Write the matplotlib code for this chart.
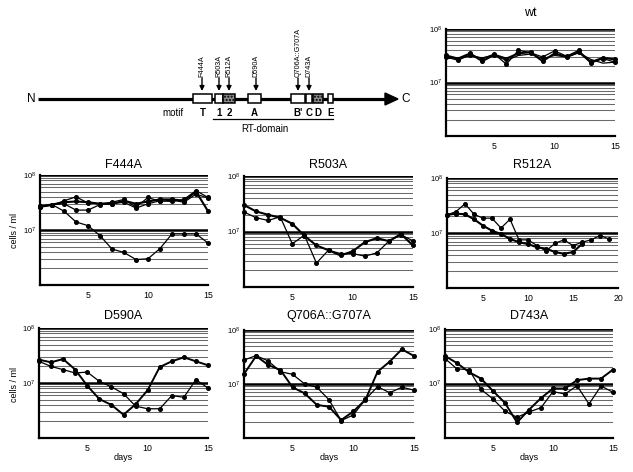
import matplotlib
matplotlib.use('Agg')
import matplotlib.pyplot as plt
import numpy as np
from matplotlib.patches import Rectangle, Polygon
from matplotlib.ticker import FixedLocator, NullFormatter

plt.rcParams['font.family'] = ['Liberation Sans', 'DejaVu Sans']
plt.rcParams['mathtext.fontset'] = 'custom'
plt.rcParams['mathtext.rm'] = 'Liberation Sans'
plt.rcParams['mathtext.it'] = 'Liberation Sans:italic'
plt.rcParams['mathtext.bf'] = 'Liberation Sans:bold'

W, H = 633, 472

# ---------------- data (cells/ml, in units of 10^6) ----------------
days15 = list(range(1, 16))
days16 = list(range(1, 17))
days19 = list(range(1, 20))

wt_a = [32, 28, 35, 25, 33, 28, 35, 37, 25, 35, 30, 37, 24, 29, 27]
wt_b = [30, 26, 33, 28, 34, 22, 40, 36, 30, 39, 31, 40, 23, 28, 24]
wt_c = [28, 29, 31, 29, 32, 26, 32, 34, 28, 32, 30, 36, 27, 23, 24]

f444a_a = [27, 29, 32, 33, 32, 30, 30, 34, 30, 33, 36, 36, 34, 50, 22]
f444a_b = [26, 28, 34, 40, 31, 30, 32, 36, 26, 39, 33, 35, 32, 45, 38]
f444a_c = [26, 29, 30, 23, 23, 29, 30, 32, 25, 30, 34, 33, 36, 52, 39]
f444a_d = [27, 29, 22, 14, 12, 7.9, 4.5, 3.9, 2.9, 3.0, 4.6, 8.5, 8.5, 8.5, 5.8]

r503a_a = [30, 23, 20, 17.7, 13.8, 8.4, 5.6, 4.6, 3.7, 4.4, 6.4, 7.6, 6.7, 9.0, 5.6]
r503a_b = [22.5, 17.7, 15.8, 18.4, 6.0, 8.6, 2.7, 4.6, 4.0, 4.0, 3.6, 4.1, 6.7, 8.7, 6.8]

r512a_a = [21.3, 24.5, 34, 21.9, 18.6, 18.6, 12.3, 17.8, 7.5, 7.5, 5.9, 4.7, 6.5,
           7.5, 5.9, 6.8, 7.5, 9.0, 7.8]
r512a_b = [21.3, 22.5, 21.9, 17.8, 13.6, 11.0, 9.6, 7.8, 6.8, 6.3, 5.5, 5.2, 4.5,
           4.2, 4.5, 6.3]

d590a_a = [26.5, 23.8, 27.3, 17.5, 8.9, 5.1, 4.0, 2.65, 4.1, 7.4, 19.5, 24.8, 29.3, 24.8, 21]
d590a_b = [24.8, 20, 17.5, 15.2, 15.8, 10.7, 8.5, 6.4, 3.8, 3.4, 3.4, 5.9, 5.5, 11.5, 8.1]

q706a_a = [27.8, 33.5, 26.7, 16.9, 15.1, 10.0, 8.7, 5.1, 2.1, 2.67, 5.2, 8.9, 6.9, 8.7, 7.7]
q706a_b = [15.3, 33, 22.5, 18.1, 8.7, 6.7, 4.1, 3.8, 2.15, 3.1, 5.1, 16.9, 26, 44, 33]

d743a_a = [32, 23.7, 16.2, 12.3, 7.3, 4.4, 1.93, 3.3, 5.4, 8.1, 8.1, 11.5, 12.3, 12.3, 18]
d743a_b = [28.7, 18.5, 18, 7.8, 5.2, 3.1, 2.4, 3.0, 3.6, 7.1, 6.4, 9.1, 4.2, 9.0, 6.9]

# schematic: motif boxes (label, start, end, shaded) and mutation positions
motif_labels = ["T", "1", "2", "A", "B'", "C", "D", "E"]
motif_start = [193, 215, 223, 248, 291, 306, 313, 328]
motif_end = [212, 223, 235, 261, 305, 312, 323, 333]
motif_shaded = [False, False, True, False, False, False, True, False]
mutations = ["F444A", "R503A", "R512A", "D590A", "Q706A::G707A", "D743A"]
mutation_pos = [202, 219, 229, 256, 298, 309]

fig = plt.figure(figsize=(W / 100, H / 100), dpi=100)
fig.patch.set_facecolor('white')


def pbox(l, r, t, b):
    return [l / W, 1 - b / H, (r - l) / W, (b - t) / H]


def panel(box, title, title_y, series, xmax, xticks, ylabel=False, xlabel=False):
    ax = fig.add_axes(pbox(*box))
    ax.set_yscale('log')
    ax.set_ylim(1e6, 1e8)
    ax.set_xlim(1, xmax)
    minors = [m * 10 ** e for e in (6, 7) for m in range(2, 10)]
    for v in minors:
        ax.axhline(v, color='#6a6a6a', lw=0.75, zorder=1)
    for v in (1e7, 1e8):
        ax.axhline(v, color='black', lw=1.8, zorder=1)
    for (x, y, lw, mk) in series:
        ax.plot(x, np.array(y) * 1e6, color='black', lw=lw, marker=mk,
                markersize=2.6, markerfacecolor='black', zorder=3, clip_on=False)
    ax.yaxis.set_major_locator(FixedLocator([1e7, 1e8]))
    ax.yaxis.set_minor_locator(FixedLocator([]))
    ax.yaxis.set_minor_formatter(NullFormatter())
    ax.set_yticklabels(['$10^7$', '$10^8$'])
    ax.set_xticks(xticks)
    ax.set_xticklabels([str(t) for t in xticks])
    ax.tick_params(axis='both', length=0, labelsize=6.3)
    ax.tick_params(axis='y', pad=3, labelsize=5.5)
    ax.tick_params(axis='x', pad=4)
    for s in ('top', 'right'):
        ax.spines[s].set_visible(False)
    for s in ('left', 'bottom'):
        ax.spines[s].set_linewidth(1.6)
        ax.spines[s].set_zorder(4)
    cx = (box[0] + box[1]) / 2
    fig.text(cx / W, 1 - title_y / H, title, ha='center', va='center', fontsize=9)
    if ylabel:
        fig.text(15 / W, 1 - ((box[2] + box[3]) / 2 + 1) / H, 'cells / ml', rotation=90,
                 ha='center', va='center', fontsize=6.5)
    if xlabel:
        fig.text(cx / W, 1 - 457 / H, 'days', ha='center', va='center', fontsize=6.5)
    return ax


panel((446, 615, 29, 136), 'wt', 13,
      [(days15, wt_a, 1.5, 'o'), (days15, wt_b, 0.9, 'o'), (days15, wt_c, 0.9, None)],
      15, [5, 10, 15])
panel((40, 208, 175, 285), 'F444A', 165,
      [(days15, f444a_a, 1.5, 'o'), (days15, f444a_b, 0.9, 'o'),
       (days15, f444a_c, 0.9, 'o'), (days15, f444a_d, 0.9, 'o')],
      15, [5, 10, 15], ylabel=True)
panel((244, 413, 176, 287), 'R503A', 165,
      [(days15, r503a_a, 1.5, 'o'), (days15, r503a_b, 0.9, 'o')],
      15, [5, 10, 15])
panel((447, 618, 178, 288), 'R512A', 165,
      [(days19, r512a_a, 0.9, 'o'), (days16, r512a_b, 1.5, 'o')],
      20, [5, 10, 15, 20])
panel((39, 208, 328, 438), 'D590A', 316,
      [(days15, d590a_a, 1.4, 'o'), (days15, d590a_b, 0.9, 'o')],
      15, [5, 10, 15], ylabel=True, xlabel=True)
panel((244, 414, 330, 438), 'Q706A::G707A', 316,
      [(days15, q706a_a, 0.9, 'o'), (days15, q706a_b, 1.4, 'o')],
      15, [5, 10, 15], xlabel=True)
panel((445, 613, 329, 438), 'D743A', 316,
      [(days15, d743a_a, 1.4, 'o'), (days15, d743a_b, 0.9, 'o')],
      15, [5, 10, 15], xlabel=True)

# ---------------- schematic ----------------
ax0 = fig.add_axes([0, 0, 1, 1], zorder=-1)
ax0.set_xlim(0, W)
ax0.set_ylim(H, 0)
ax0.axis('off')
ly = 99
ax0.plot([38, 388], [ly, ly], color='black', lw=2.3, solid_capstyle='butt', zorder=1)
ax0.add_patch(Polygon([(385, ly - 6), (398, ly), (385, ly + 6)], closed=True,
                      facecolor='black', edgecolor='black', zorder=2))
ax0.text(31, ly, 'N', ha='center', va='center', fontsize=8.5)
ax0.text(406, ly + 0.5, 'C', ha='center', va='center', fontsize=8.5)
for lab, s, e, sh in zip(motif_labels, motif_start, motif_end, motif_shaded):
    ax0.add_patch(Rectangle((s, 94), e - s, 9, facecolor='#8c8c8c' if sh else 'white',
                            edgecolor='black', lw=1.1, zorder=3,
                            hatch='.....' if sh else None))
    ax0.text((s + e) / 2, 113, lab, ha='center', va='center', fontsize=7,
             fontweight='bold')
ax0.text(173, 113, 'motif', ha='center', va='center', fontsize=7)
ax0.plot([213, 333], [118.5, 118.5], color='black', lw=0.9)
ax0.text(265, 129, 'RT-domain', ha='center', va='center', fontsize=7)
for lab, x in zip(mutations, mutation_pos):
    ax0.annotate('', xy=(x, 91), xytext=(x, 78),
                 arrowprops=dict(arrowstyle='-|>', lw=1.0, color='black',
                                 mutation_scale=7, shrinkA=0, shrinkB=0))
    ax0.text(x, 77, lab, rotation=90, ha='center', va='bottom', fontsize=5.2)

fig.savefig('out.png', dpi=100, facecolor='white')
